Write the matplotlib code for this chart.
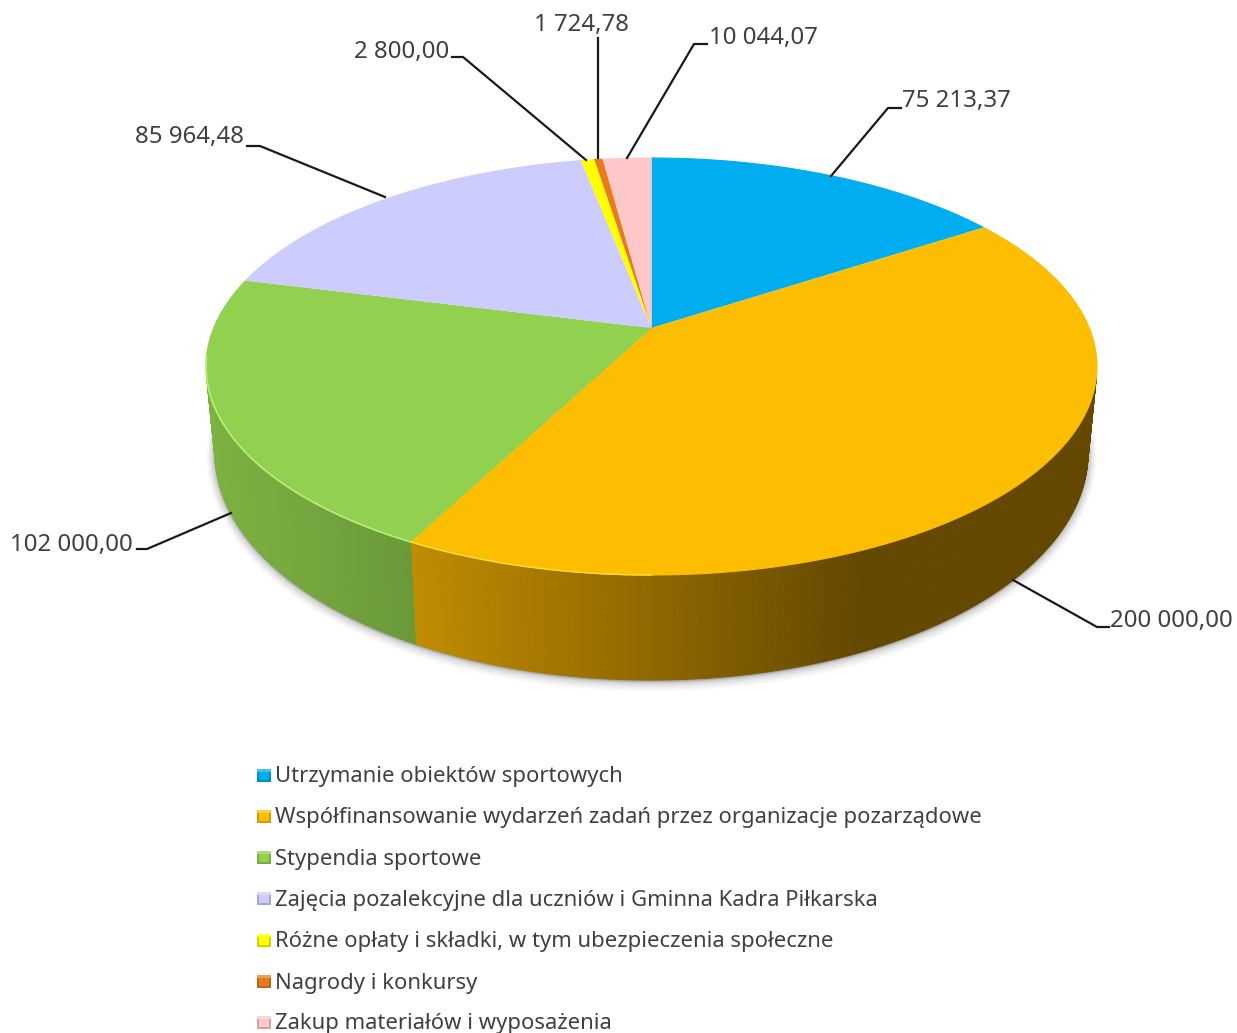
import numpy as np
import matplotlib
matplotlib.use("Agg")
import matplotlib.pyplot as plt
from matplotlib.colors import to_rgb

# ---- data -------------------------------------------------------------
categories = [
    "Utrzymanie obiektów sportowych",
    "Współfinansowanie wydarzeń zadań przez organizacje pozarządowe",
    "Stypendia sportowe",
    "Zajęcia pozalekcyjne dla uczniów i Gminna Kadra Piłkarska",
    "Różne opłaty i składki, w tym ubezpieczenia społeczne",
    "Nagrody i konkursy",
    "Zakup materiałów i wyposażenia",
]
values = [75213.37, 200000.00, 102000.00, 85964.48, 2800.00, 1724.78, 10044.07]
value_labels = ["75 213,37", "200 000,00", "102 000,00", "85 964,48",
                "2 800,00", "1 724,78", "10 044,07"]
colors = ["#00AEEF", "#FDBD00", "#92D050", "#CCCCFF", "#FFFF00", "#E87B1C", "#FFC8C8"]

# ---- projection of the pie (perspective view of a disc) -----------------
W, H = 1237, 1033
APEX = (651.5, 328.0)
K, A, B = 0.1847, 201.4, 437.8
BASE_SX, BASE_SY, BASE_DY = 0.98, 1.09, 82.8


def rim(theta_deg, base=False):
    """Screen position of the rim at a clockwise angle measured from 12 o'clock."""
    t = np.radians(theta_deg)
    u, v = np.sin(t), np.cos(t)
    w = 1 + K * v
    sx, sy = B * u / w, A * v / w
    if base:
        return APEX[0] + BASE_SX * sx, APEX[1] - BASE_SY * sy + BASE_DY
    return APEX[0] + sx, APEX[1] - sy


def lerp(c1, c2, f):
    f = np.clip(f, 0, 1)
    return tuple((1 - f) * np.array(to_rgb(c1)) + f * np.array(to_rgb(c2)))


fig = plt.figure(figsize=(W / 100, H / 100), dpi=100, facecolor="white")
ax = fig.add_axes([0, 0, 1, 1])
ax.set_xlim(0, W)
ax.set_ylim(H, 0)
ax.axis("off")

total = sum(values)
edges = np.concatenate([[0], np.cumsum(values)]) / total * 360

# soft shadow around the wall
arc = np.linspace(92, 268, 300)
bx, by = rim(arc, base=True)
for off, alpha in [(6, .03), (5, .04), (4, .05), (3, .07), (2, .09), (1, .12)]:
    ax.fill(np.r_[bx, APEX[0]], np.r_[by + off * 0.5, APEX[1]], facecolor="#505050",
            edgecolor="#505050", alpha=alpha, lw=off * 2, joinstyle="round", zorder=1)

# side wall, shaded left to right
wall_ends = {1: ("#C18C00", "#644800", 412, 860), 2: ("#7DB242", "#6A9838", 212, 417)}
for idx, (c0, c1, x0, x1) in wall_ends.items():
    a0 = max(edges[idx], 103)
    a1 = min(edges[idx + 1], 257)
    th = np.linspace(a0, a1, int((a1 - a0) * 4) + 2)
    for t0, t1 in zip(th[:-1], th[1:]):
        xa, ya = rim(t0)
        xb, yb = rim(t1)
        xc, yc = rim(t1, True)
        xd, yd = rim(t0, True)
        f = ((xa + xb + xc + xd) / 4 - x0) / (x1 - x0)
        col = lerp(c0, c1, f)
        ax.fill([xa, xb, xc, xd], [ya, yb, yc, yd], color=col, lw=0.6, zorder=2)

# top face
for i, col in enumerate(colors):
    th = np.linspace(edges[i], edges[i + 1], max(int(edges[i + 1] - edges[i]) * 3, 4))
    xs, ys = rim(th)
    ax.fill(np.r_[APEX[0], xs], np.r_[APEX[1], ys], facecolor=col, edgecolor="none", zorder=3)
    ax.plot(xs, ys, color=col, lw=0.8, zorder=3)

# bright rim highlights
th = np.linspace(edges[2], 262, 200)
ax.plot(*rim(th), color="#B4F07A", lw=1.2, zorder=4)
th = np.linspace(180, edges[2], 120)
ax.plot(*rim(th), color="#FFDE3C", lw=1.0, zorder=4)

# leader lines and value labels
TXT = "#404040"
leaders = [
    ([831, 888, 901], [176, 108, 108], 902, 101, "left"),
    ([1013, 1097, 1109], [580, 627, 627], 1110, 621, "left"),
    ([231, 147, 137], [513, 549, 549], 133, 545, "right"),
    ([385, 260, 247], [197, 146, 146], 244, 137, "right"),
    ([586, 463, 452], [160, 57, 57], 449, 52, "right"),
    ([598, 598], [158, 38], 582, 25, "center"),
    ([627, 694, 707], [158, 44, 44], 709, 38, "left"),
]
for lab, (lx, ly, tx, ty, ha) in zip(value_labels, leaders):
    ax.plot(lx, ly, color="#1A1A1A", lw=1.6, zorder=5, solid_joinstyle="round")
    ax.text(tx, ty, lab, ha=ha, va="center", family="Noto Sans", fontsize=17.3,
            color=TXT, zorder=6)

# legend
legend_y = [775, 816.3, 857.6, 898.8, 940, 981.5, 1022.5]
for cat, col, y in zip(categories, colors, legend_y):
    x0, x1, y0, y1 = 257, 271, y - 6.5, y + 6.5
    ax.fill([x0, x1, x1, x0], [y0, y0, y1, y1], color=lerp(col, "#000000", .18), lw=0, zorder=5)
    ax.fill([x0, x1, x1, x0], [y0, y0, y0 + 3, y0 + 3], color=lerp(col, "#FFFFFF", .25), lw=0, zorder=6)
    ax.fill([x0 + 2, x1 - 2, x1 - 2, x0 + 2], [y0 + 3, y0 + 3, y1 - 2, y1 - 2], color=col, lw=0, zorder=7)
    ax.text(275, y + 1.5, cat, ha="left", va="center", family="Noto Sans", fontsize=15.88,
            color=TXT, zorder=6)

fig.savefig("out.png", dpi=100, facecolor="white")
